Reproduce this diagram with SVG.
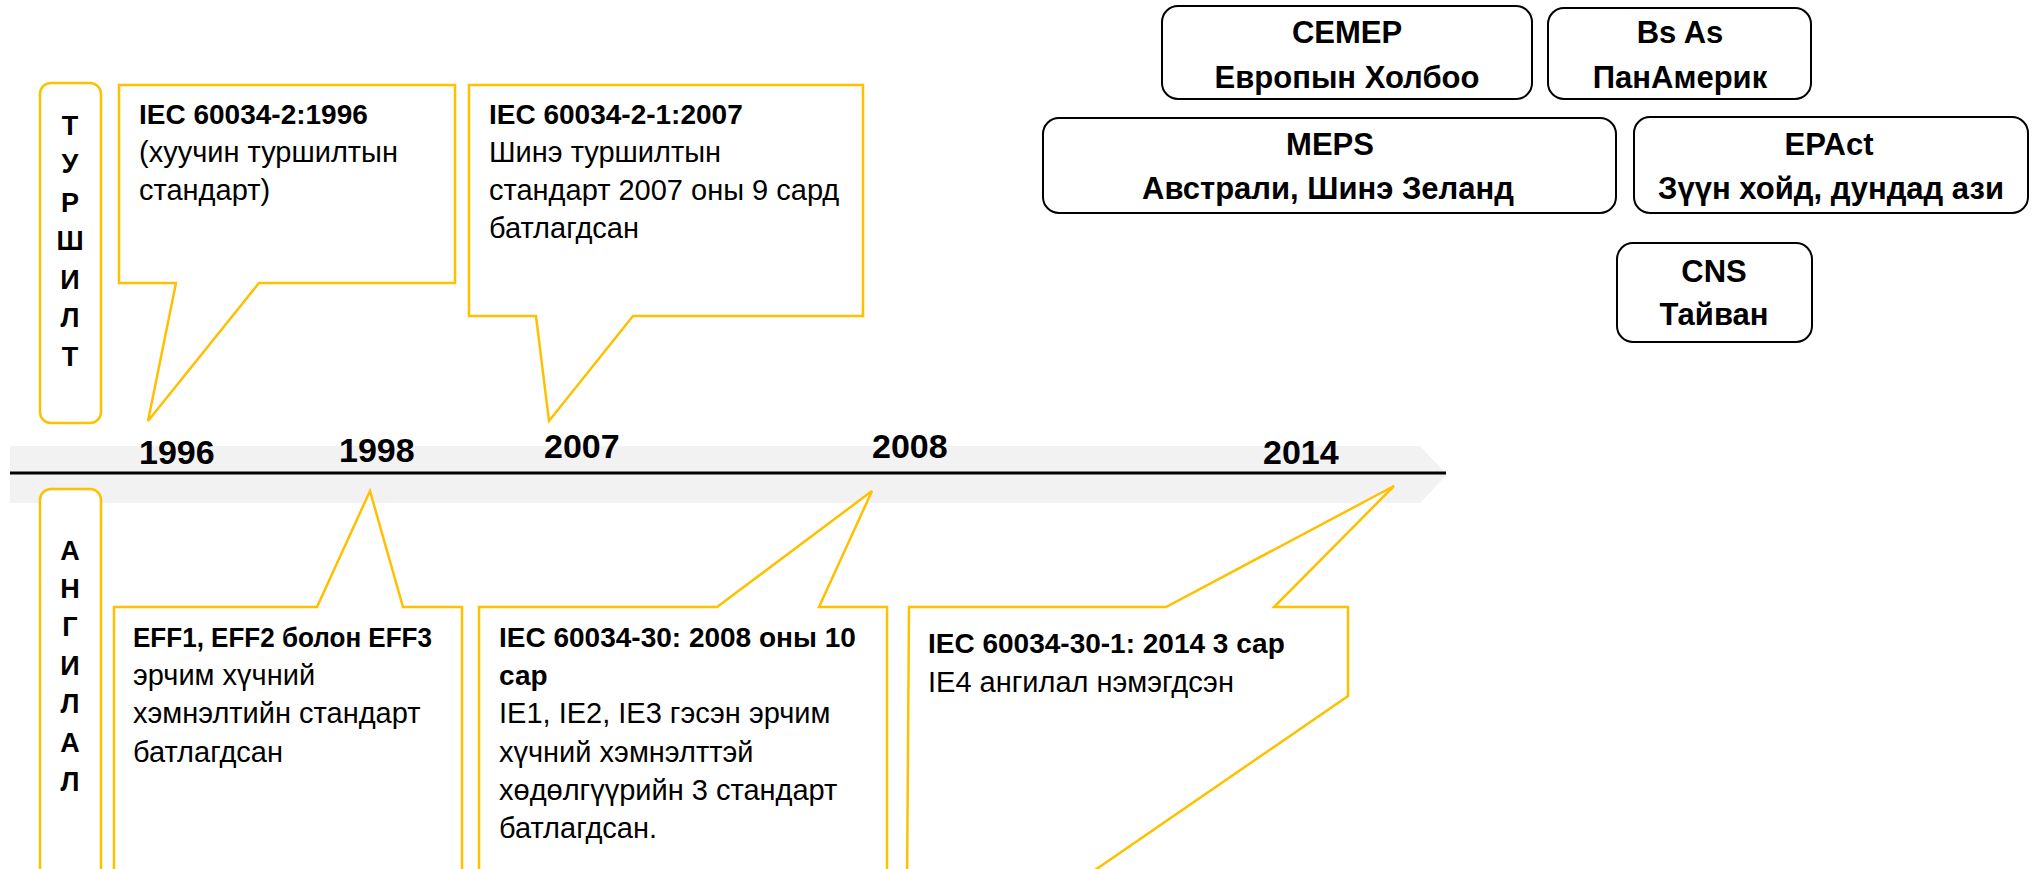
<svg xmlns="http://www.w3.org/2000/svg" width="2044" height="869" viewBox="0 0 2044 869">
<style>
text{font-family:"Liberation Sans",Arial,sans-serif;fill:#000}
.t{font-size:29px}
.b{font-weight:bold;font-size:28px}
.yr{font-size:34px;font-weight:bold}
.v{font-size:27px;font-weight:bold;text-anchor:middle}
.call{fill:#fff;stroke:#FFC000;stroke-width:2.5;stroke-linejoin:miter}
.side{fill:#fff;stroke:#FFC000;stroke-width:2.5}
.reg{fill:#fff;stroke:#000;stroke-width:2}
.rt{font-size:31px;font-weight:bold;text-anchor:middle}
</style>
<rect width="2044" height="869" fill="#fff"/>

<g id="timeline">
<polygon points="10,446 1420,446 1447,474.5 1420,503 10,503" fill="#f2f2f2"/>
<line x1="10" y1="473" x2="1446" y2="473" stroke="#000" stroke-width="3"/>
<text class="yr" x="139" y="464">1996</text>
<text class="yr" x="339" y="462">1998</text>
<text class="yr" x="544" y="458">2007</text>
<text class="yr" x="872" y="458">2008</text>
<text class="yr" x="1263" y="464">2014</text>
</g>

<g id="label-turshilt">
<rect class="side" x="40" y="83" width="61" height="340" rx="11"/>
<text class="v" x="70" y="135">Т</text>
<text class="v" x="70" y="173">У</text>
<text class="v" x="70" y="212">Р</text>
<text class="v" x="70" y="250">Ш</text>
<text class="v" x="70" y="289">И</text>
<text class="v" x="70" y="327">Л</text>
<text class="v" x="70" y="366">Т</text>
</g>

<g id="label-angilal">
<rect class="side" x="40" y="489" width="61" height="400" rx="11"/>
<text class="v" x="70" y="560">А</text>
<text class="v" x="70" y="598">Н</text>
<text class="v" x="70" y="636">Г</text>
<text class="v" x="70" y="675">И</text>
<text class="v" x="70" y="713">Л</text>
<text class="v" x="70" y="752">А</text>
<text class="v" x="70" y="791">Л</text>
</g>

<g id="callout-1996">
<polygon class="call" points="119,85 455,85 455,283 259,283 148,421 176,283 119,283"/>
<text class="b" x="139" y="124">IEC 60034-2:1996</text>
<text class="t" x="139" y="162">(хуучин туршилтын</text>
<text class="t" x="139" y="200">стандарт)</text>
</g>

<g id="callout-2007">
<polygon class="call" points="469,85 863,85 863,316 633,316 549,421 536,316 469,316"/>
<text class="b" x="489" y="124">IEC 60034-2-1:2007</text>
<text class="t" x="489" y="162">Шинэ туршилтын</text>
<text class="t" x="489" y="200">стандарт 2007 оны 9 сард</text>
<text class="t" x="489" y="238">батлагдсан</text>
</g>

<g id="callout-1998">
<polygon class="call" points="114,890 114,607 317,607 370,491 403,607 462,607 462,890"/>
<text class="b" x="133" y="647" textLength="299" lengthAdjust="spacingAndGlyphs">EFF1, EFF2 болон EFF3</text>
<text class="t" x="133" y="685">эрчим хүчний</text>
<text class="t" x="133" y="723">хэмнэлтийн стандарт</text>
<text class="t" x="133" y="762">батлагдсан</text>
</g>

<g id="callout-2008">
<polygon class="call" points="479,890 479,607 717,607 872,491 819,607 887,607 887,890"/>
<text class="b" x="499" y="647">IEC 60034-30: 2008 оны 10</text>
<text class="b" x="499" y="685">сар</text>
<text class="t" x="499" y="723">IE1, IE2, IE3 гэсэн эрчим</text>
<text class="t" x="499" y="762">хүчний хэмнэлттэй</text>
<text class="t" x="499" y="800">хөдөлгүүрийн 3 стандарт</text>
<text class="t" x="499" y="838">батлагдсан.</text>
</g>

<g id="callout-2014">
<polygon class="call" points="907,890 909,607 1166,607 1394,486 1274,607 1348,607 1348,696 1066,890"/>
<text class="b" x="928" y="653">IEC 60034-30-1: 2014 3 сар</text>
<text class="t" x="928" y="692">IE4 ангилал нэмэгдсэн</text>
</g>

<g id="cemep">
<rect class="reg" x="1162" y="6" width="370" height="93" rx="16"/>
<text class="rt" x="1347" y="43">CEMEP</text>
<text class="rt" x="1347" y="88">Европын Холбоо</text>
</g>

<g id="bsas">
<rect class="reg" x="1548" y="8" width="263" height="91" rx="16"/>
<text class="rt" x="1680" y="43">Bs As</text>
<text class="rt" x="1680" y="88">ПанАмерик</text>
</g>

<g id="meps">
<rect class="reg" x="1043" y="118" width="573" height="95" rx="16"/>
<text class="rt" x="1330" y="155">MEPS</text>
<text class="rt" x="1328" y="199">Австрали, Шинэ Зеланд</text>
</g>

<g id="epact">
<rect class="reg" x="1634" y="117" width="394" height="96" rx="16"/>
<text class="rt" x="1829" y="155">EPAct</text>
<text class="rt" x="1831" y="199">Зүүн хойд, дундад ази</text>
</g>

<g id="cns">
<rect class="reg" x="1617" y="243" width="195" height="99" rx="16"/>
<text class="rt" x="1714" y="282">CNS</text>
<text class="rt" x="1714" y="325">Тайван</text>
</g>

<g id="connectors"></g>
</svg>
